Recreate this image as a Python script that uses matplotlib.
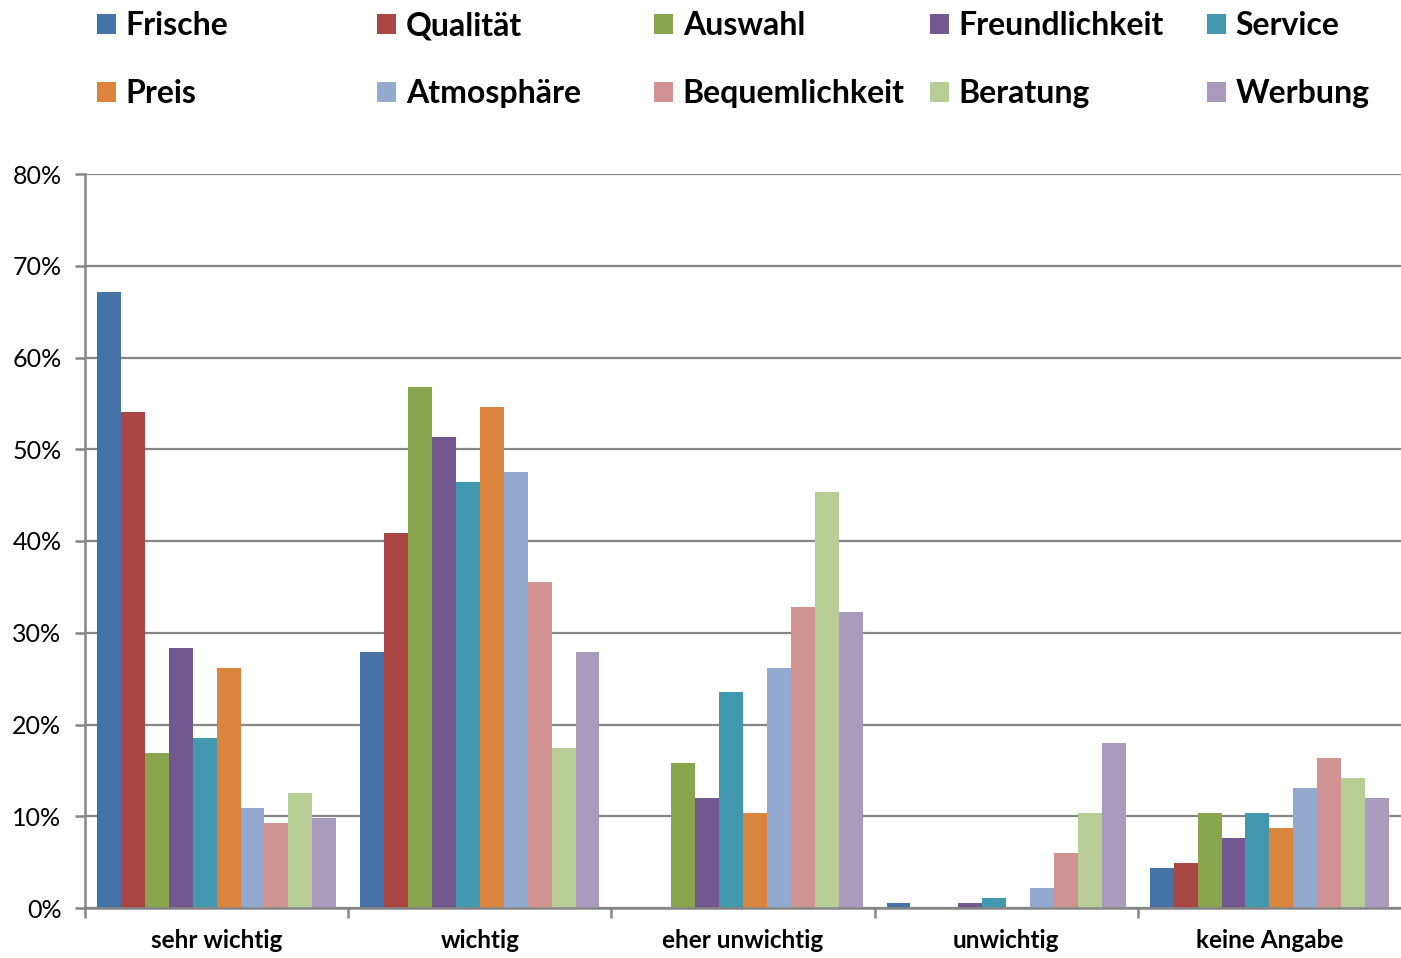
import matplotlib
matplotlib.use("Agg")
import matplotlib.pyplot as plt
from matplotlib.patches import Patch
import numpy as np

categories = ["sehr wichtig", "wichtig", "eher unwichtig", "unwichtig", "keine Angabe"]
series_names = ["Frische", "Qualität", "Auswahl", "Freundlichkeit", "Service",
                "Preis", "Atmosphäre", "Bequemlichkeit", "Beratung", "Werbung"]
colors = ["#4572A7", "#AA4643", "#89A54E", "#71588F", "#4198AF",
          "#DB843D", "#93A9CF", "#D19392", "#B9CD96", "#A99BBD"]

frische        = [67.1, 27.9, 0.0, 0.5, 4.4]
qualitaet      = [54.1, 40.9, 0.0, 0.0, 4.9]
auswahl        = [16.9, 56.8, 15.8, 0.0, 10.4]
freundlichkeit = [28.3, 51.3, 12.0, 0.5, 7.6]
service        = [18.5, 46.4, 23.5, 1.1, 10.4]
preis          = [26.2, 54.6, 10.4, 0.0, 8.7]
atmosphaere    = [10.9, 47.5, 26.2, 2.2, 13.1]
bequemlichkeit = [9.3, 35.5, 32.8, 6.0, 16.4]
beratung       = [12.5, 17.4, 45.3, 10.4, 14.2]
werbung        = [9.8, 27.9, 32.3, 18.0, 12.0]

series = [frische, qualitaet, auswahl, freundlichkeit, service,
          preis, atmosphaere, bequemlichkeit, beratung, werbung]

yticks = [0, 10, 20, 30, 40, 50, 60, 70, 80]
ytick_labels = ["0%", "10%", "20%", "30%", "40%", "50%", "60%", "70%", "80%"]

plt.rcParams['font.family'] = ['Lato', 'DejaVu Sans']

W, H = 1401, 958
fig = plt.figure(figsize=(W / 100, H / 100), dpi=100)
ax = fig.add_axes([85 / W, (H - 908) / H, (W - 85) / W, (908 - 174) / H])

x = np.arange(len(categories))
n = len(series)
bw = 1 / (n + 1)
handles = []
for i, (vals, c, name) in enumerate(zip(series, colors, series_names)):
    ax.bar(x + (i - (n - 1) / 2) * bw, vals, width=bw, color=c, label=name,
           edgecolor="none", zorder=3)
    handles.append(Patch(facecolor=c, edgecolor="none", label=name))

ax.set_xlim(-0.5, 4.5)
ax.set_ylim(0, 80)
ax.set_yticks(yticks)
ax.set_yticklabels(ytick_labels, fontsize=18)
ax.set_xticks(x)
ax.set_xticklabels(categories, fontsize=17.5, fontweight="bold")
ax.set_xticks(np.arange(-0.5, 4.5, 1), minor=True)
ax.tick_params(axis="x", which="major", length=0, pad=15)
ax.tick_params(axis="x", which="minor", length=7, width=1.8, color="#868686", direction="out")
ax.tick_params(axis="y", length=7, width=1.8, color="#868686", pad=10)

ax.grid(axis="y", color="#868686", linewidth=1.6, zorder=0)
ax.set_axisbelow(True)
for side in ["top", "right"]:
    ax.spines[side].set_visible(False)
for side in ["left", "bottom"]:
    ax.spines[side].set_color("#868686")
    ax.spines[side].set_linewidth(1.8)
    ax.spines[side].set_zorder(4)

# legend: 5 columns at fixed positions, 2 rows each
col_x = [97, 377, 654, 930, 1207]
for k in range(5):
    leg = fig.legend(handles=[handles[k], handles[k + 5]],
                     loc="upper left",
                     bbox_to_anchor=(col_x[k] / W, 1 - 11 / H),
                     frameon=False, handlelength=0.58, handleheight=0.58,
                     handletextpad=0.32, labelspacing=1.22,
                     prop={"size": 23, "weight": "bold"}, borderaxespad=0,
                     borderpad=0)

fig.savefig("out.png", dpi=100)
